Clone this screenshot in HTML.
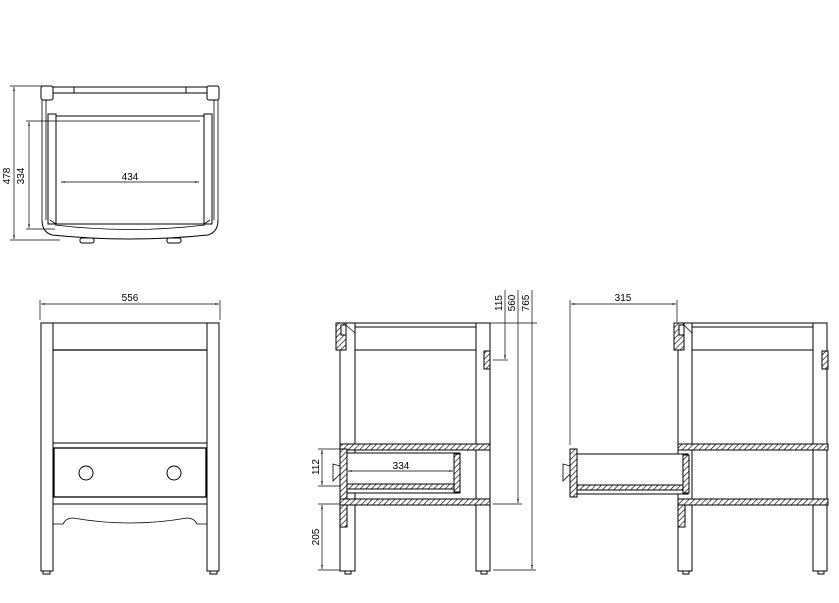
<!DOCTYPE html>
<html><head><style>
html,body{margin:0;padding:0;background:#fff;width:839px;height:603px;overflow:hidden}
svg text{font-family:"Liberation Sans",sans-serif;font-size:10px;fill:#000}
</style></head><body>
<svg width="839" height="603" viewBox="0 0 839 603" xmlns="http://www.w3.org/2000/svg">
<defs>
<pattern id="h" patternUnits="userSpaceOnUse" width="4" height="4" patternTransform="rotate(45)">
<rect width="4" height="4" fill="#fff"/><line x1="0" y1="0" x2="0" y2="4" stroke="#000" stroke-width="1.3"/>
</pattern>
<marker id="a" viewBox="0 0 10 10" refX="10" refY="5" markerWidth="6" markerHeight="6" orient="auto-start-reverse"><path d="M0,3 L10,5 L0,7z" fill="#000"/></marker>
</defs>
<g fill="none" stroke="#000" stroke-width="1">
<!-- TOP VIEW -->
<line x1="10" y1="86" x2="44" y2="86" stroke-width="0.7"/>
<line x1="10" y1="240" x2="60" y2="240" stroke-width="0.7"/>
<line x1="14" y1="87" x2="14" y2="239" marker-start="url(#a)" marker-end="url(#a)" stroke-width="0.7"/>
<line x1="26" y1="121" x2="60" y2="121" stroke-width="0.7"/>
<line x1="26" y1="229" x2="55" y2="229" stroke-width="0.7"/>
<line x1="29" y1="122" x2="29" y2="228" marker-start="url(#a)" marker-end="url(#a)" stroke-width="0.7"/>
<rect x="41" y="86" width="12" height="14" rx="2"/>
<rect x="207" y="86" width="12" height="14" rx="2"/>
<line x1="53" y1="87" x2="207" y2="87"/><line x1="53" y1="93" x2="207" y2="93"/>
<line x1="74" y1="87" x2="74" y2="93"/><line x1="186" y1="87" x2="186" y2="93"/>
<path d="M42,100 V220 M46,100 V220 M214,100 V220 M218,100 V220" stroke-width="0.8"/>
<rect x="48" y="114" width="8" height="110"/>
<rect x="204" y="114" width="8" height="110"/>
<rect x="56" y="116" width="148" height="108"/>
<line x1="60" y1="121" x2="200" y2="121" stroke-width="0.7"/>
<line x1="61" y1="182" x2="199" y2="182" marker-start="url(#a)" marker-end="url(#a)" stroke-width="0.7"/>
<path d="M42,220 Q42,232 52,235 Q130,243 208,235 Q218,232 218,220" />
<path d="M55,225 Q130,234 205,225" stroke-width="0.8"/>
<path d="M50,220 L56,224 M210,220 L204,224" stroke-width="0.8"/>
<rect x="80" y="238" width="14" height="5" rx="2"/>
<rect x="167" y="238" width="14" height="5" rx="2"/>
</g>
<text x="13" y="176" transform="rotate(-90 13 176)" text-anchor="middle" dy="-3">478</text>
<text x="27" y="176" transform="rotate(-90 27 176)" text-anchor="middle" dy="-3">334</text>
<text x="130" y="180" text-anchor="middle">434</text>

<g fill="none" stroke="#000" stroke-width="1">
<!-- FRONT VIEW -->
<line x1="40" y1="300" x2="40" y2="320" stroke-width="0.7"/>
<line x1="220" y1="300" x2="220" y2="320" stroke-width="0.7"/>
<line x1="41" y1="304" x2="219" y2="304" marker-start="url(#a)" marker-end="url(#a)" stroke-width="0.7"/>
<rect x="41" y="323" width="12" height="248"/>
<rect x="207" y="323" width="12" height="248"/>
<line x1="53" y1="323" x2="207" y2="323"/>
<line x1="53" y1="350" x2="207" y2="350" stroke-width="1.3"/>
<line x1="53" y1="443" x2="207" y2="443"/>
<rect x="54" y="448" width="152" height="49" stroke-width="1.3"/>
<circle cx="86" cy="473" r="7"/><circle cx="174" cy="473" r="7"/>
<line x1="53" y1="504" x2="207" y2="504"/>
<path d="M53,524 H63 Q66,518 73,518 Q130,528 187,518 Q194,518 197,524 H207" stroke-width="0.8"/>
<rect x="43" y="571" width="7" height="3"/><rect x="210" y="571" width="7" height="3"/>

<!-- SIDE VIEW -->
<rect x="340" y="323" width="15" height="248" />
<rect x="476" y="323" width="14" height="248"/>
<line x1="355" y1="323" x2="476" y2="323"/>
<line x1="355" y1="327" x2="476" y2="327"/>
<line x1="355" y1="350" x2="476" y2="350"/>
<rect x="336" y="323" width="10" height="27" fill="url(#h)"/>
<rect x="341" y="325" width="5" height="10" fill="#fff"/>
<line x1="346" y1="325" x2="355" y2="333" stroke-width="0.7"/>
<rect x="484" y="351" width="6" height="18" fill="url(#h)"/>
<rect x="340" y="444" width="150" height="6" fill="url(#h)"/>
<rect x="340" y="499" width="150" height="6" fill="url(#h)"/>
<rect x="340" y="449" width="7" height="50" fill="url(#h)"/>
<rect x="340" y="505" width="7" height="22" fill="url(#h)"/>
<rect x="347" y="453" width="113" height="40" fill="#fff"/>
<rect x="454" y="454" width="6" height="38" fill="url(#h)"/>
<rect x="347" y="484" width="107" height="5" fill="url(#h)"/>
<path d="M340,466 L333,464 L333,481 L340,474 Z" stroke-width="0.8"/>
<line x1="348" y1="471" x2="453" y2="471" marker-start="url(#a)" marker-end="url(#a)" stroke-width="0.7"/>
<line x1="318" y1="449" x2="340" y2="449" stroke-width="0.7"/>
<line x1="318" y1="486" x2="340" y2="486" stroke-width="0.7"/>
<line x1="322" y1="450" x2="322" y2="485" marker-start="url(#a)" marker-end="url(#a)" stroke-width="0.7"/>
<line x1="318" y1="504" x2="340" y2="504" stroke-width="0.7"/>
<line x1="318" y1="570" x2="340" y2="570" stroke-width="0.7"/>
<line x1="322" y1="505" x2="322" y2="569" marker-start="url(#a)" marker-end="url(#a)" stroke-width="0.7"/>
<line x1="490" y1="323" x2="537" y2="323" stroke-width="0.7"/>
<line x1="493" y1="360" x2="508" y2="360" stroke-width="0.7"/>
<line x1="493" y1="504" x2="522" y2="504" stroke-width="0.7"/>
<line x1="493" y1="570" x2="536" y2="570" stroke-width="0.7"/>
<line x1="505" y1="290" x2="505" y2="359" marker-end="url(#a)" stroke-width="0.7"/>
<line x1="518" y1="290" x2="518" y2="503" marker-end="url(#a)" stroke-width="0.7"/>
<line x1="532" y1="290" x2="532" y2="569" marker-end="url(#a)" stroke-width="0.7"/>
<rect x="345" y="571" width="6" height="3"/><rect x="481" y="571" width="6" height="3"/>

<!-- SIDE VIEW 2 -->
<line x1="570" y1="300" x2="570" y2="445" stroke-width="0.7"/>
<line x1="677" y1="300" x2="677" y2="322" stroke-width="0.7"/>
<line x1="571" y1="304" x2="676" y2="304" marker-start="url(#a)" marker-end="url(#a)" stroke-width="0.7"/>
<rect x="678" y="323" width="14" height="248"/>
<rect x="813" y="323" width="14" height="248"/>
<line x1="692" y1="323" x2="813" y2="323"/>
<line x1="692" y1="327" x2="813" y2="327"/>
<line x1="692" y1="350" x2="813" y2="350"/>
<rect x="674" y="323" width="10" height="27" fill="url(#h)"/>
<rect x="679" y="325" width="5" height="10" fill="#fff"/>
<line x1="684" y1="325" x2="692" y2="333" stroke-width="0.7"/>
<rect x="822" y="351" width="6" height="18" fill="url(#h)"/>
<rect x="678" y="444" width="150" height="6" fill="url(#h)"/>
<rect x="678" y="499" width="150" height="6" fill="url(#h)"/>
<rect x="678" y="505" width="7" height="22" fill="url(#h)"/>
<rect x="570" y="449" width="7" height="48" fill="url(#h)"/>
<rect x="577" y="454" width="111" height="40" fill="#fff"/>
<rect x="683" y="455" width="6" height="38" fill="url(#h)"/>
<rect x="577" y="485" width="106" height="5" fill="url(#h)"/>
<path d="M570,466 L563,464 L563,481 L570,474 Z" stroke-width="0.8"/>
<rect x="683" y="571" width="6" height="3"/><rect x="818" y="571" width="6" height="3"/>
</g>
<text x="130" y="301" text-anchor="middle">556</text>
<text x="623" y="301" text-anchor="middle">315</text>
<text x="401" y="469" text-anchor="middle">334</text>
<text x="320" y="467" transform="rotate(-90 320 467)" text-anchor="middle" dy="-1">112</text>
<text x="320" y="537" transform="rotate(-90 320 537)" text-anchor="middle" dy="-1">205</text>
<text x="503" y="303" transform="rotate(-90 503 303)" text-anchor="middle" dy="-1">115</text>
<text x="516" y="303" transform="rotate(-90 516 303)" text-anchor="middle" dy="-1">560</text>
<text x="530" y="303" transform="rotate(-90 530 303)" text-anchor="middle" dy="-1">765</text>
</svg>
</body></html>
